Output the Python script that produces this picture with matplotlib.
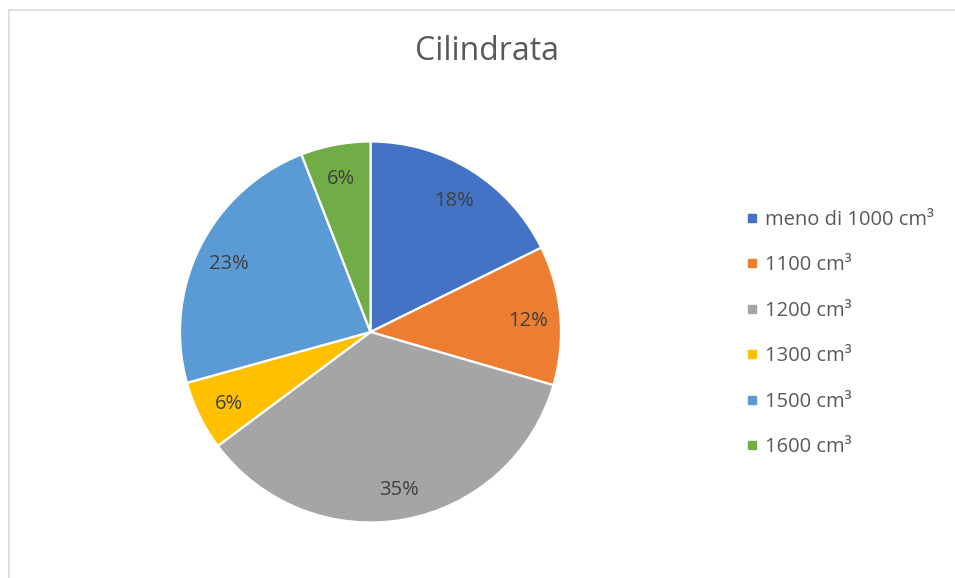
import matplotlib
matplotlib.use("Agg")
import matplotlib.pyplot as plt
from matplotlib.lines import Line2D
from matplotlib.patches import Rectangle

# share of cars per engine size (percent)
categories = ["meno di 1000 cm³", "1100 cm³", "1200 cm³",
              "1300 cm³", "1500 cm³", "1600 cm³"]
shares = [17.7, 11.8, 35.3, 5.9, 23.4, 5.9]
colors = ["#4472C4", "#ED7D31", "#A5A5A5", "#FFC000", "#5B9BD5", "#70AD47"]

plt.rcParams["font.family"] = ["Open Sans", "DejaVu Sans"]

W, H = 955, 578
fig = plt.figure(figsize=(W / 100, H / 100), dpi=100)

# light chart-area border (runs off right/bottom edges)
fig.patches.append(Rectangle((8.5 / W, -0.1), 1.2, (H - 9.5) / H + 0.1,
                             transform=fig.transFigure, facecolor="none",
                             edgecolor="#D9D9D9", lw=1.2))

cx, cy, r = 370.5, H - 332, 190.5
ax = fig.add_axes([(cx - r) / W, (cy - r) / H, 2 * r / W, 2 * r / H])
wedges, _, autotexts = ax.pie(
    shares, colors=colors, startangle=90, counterclock=False,
    autopct="%1.0f%%", pctdistance=0.83, radius=1,
    wedgeprops=dict(edgecolor="white", linewidth=1.6),
    textprops=dict(color="#404040", fontsize=14.5))
ax.set_xlim(-1, 1)
ax.set_ylim(-1, 1)
for t in autotexts:
    x, y = t.get_position()
    t.set_position((x, y - 0.015))

fig.text(487 / W, 1 - 59.5 / H, "Cilindrata", ha="center", va="baseline",
         fontsize=23, color="#595959")

handles = [Line2D([], [], marker="s", linestyle="none", markersize=6,
                  markerfacecolor=c, markeredgecolor=c) for c in colors]
fig.legend(handles, categories, loc="center left",
           bbox_to_anchor=(735 / W, 1 - 333.5 / H), frameon=False,
           fontsize=14.5, labelcolor="#595959", handlelength=0.7,
           handletextpad=0.3, labelspacing=1.27, borderpad=0)

fig.savefig("out.png", dpi=100)
